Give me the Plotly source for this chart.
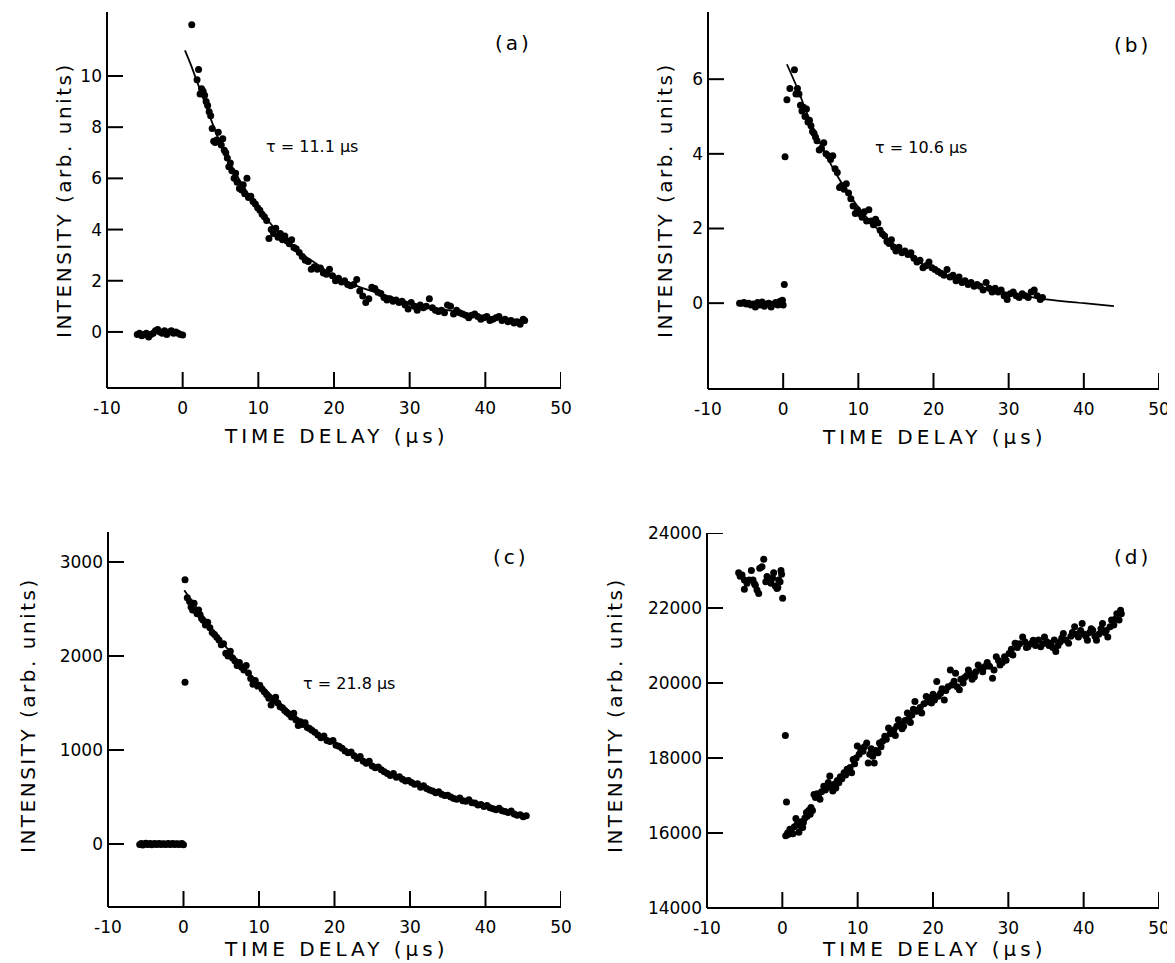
import plotly.graph_objects as go

# --- Données (temps en µs, intensité en unités arbitraires) ---

# (a) tau = 11.1 µs
a_base = [(-6.0, -0.1), (-5.7, -0.05), (-5.4, -0.15), (-5.1, -0.1), (-4.8, -0.05), (-4.5, -0.2),
          (-4.2, -0.1), (-3.9, -0.05), (-3.6, 0.05), (-3.3, 0.1), (-3.0, 0.0), (-2.7, -0.05),
          (-2.4, 0.05), (-2.1, -0.1), (-1.8, 0.0), (-1.5, 0.05), (-1.2, -0.05), (-0.9, 0.0),
          (-0.6, -0.05), (-0.3, -0.1), (0.0, -0.12)]
a_decay = [(1.2, 12.0), (1.9, 9.85), (2.1, 10.25), (2.3, 9.3), (2.5, 9.5), (2.7, 9.4), (2.9, 9.25),
           (3.1, 9.0), (3.3, 8.85), (3.5, 8.6), (3.7, 8.45), (3.9, 7.95), (4.1, 7.45), (4.3, 7.4),
           (4.5, 7.5), (4.7, 7.8), (4.9, 7.45), (5.1, 7.3), (5.3, 7.55), (5.5, 7.1), (5.7, 7.0),
           (5.9, 6.8), (6.1, 6.45), (6.3, 6.6), (6.5, 6.3), (6.8, 6.0), (7.0, 6.2), (7.2, 5.85),
           (7.5, 5.6), (7.8, 5.55), (8.0, 5.75), (8.2, 5.4), (8.5, 6.0), (8.7, 5.25), (9.0, 5.3),
           (9.3, 5.1), (9.6, 5.0), (9.9, 4.85), (10.2, 4.75), (10.5, 4.6), (10.8, 4.5), (11.1, 4.35),
           (11.4, 3.65), (11.7, 4.0), (12.0, 3.85), (12.3, 4.05), (12.6, 3.7), (12.9, 3.85),
           (13.2, 3.6), (13.5, 3.75), (13.8, 3.55), (14.1, 3.45), (14.4, 3.6), (14.7, 3.3),
           (15.0, 3.25), (15.4, 3.1), (15.8, 2.95), (16.2, 2.8), (16.6, 2.75), (17.0, 2.45),
           (17.4, 2.55), (17.8, 2.45), (18.2, 2.5), (18.6, 2.3), (19.0, 2.25), (19.4, 2.45),
           (19.8, 2.2), (20.2, 2.0), (20.6, 2.1), (21.0, 1.95), (21.4, 2.0), (21.8, 1.85),
           (22.2, 1.8), (22.6, 1.85), (23.0, 2.05), (23.4, 1.6), (23.8, 1.4), (24.2, 1.15),
           (24.6, 1.3), (25.0, 1.75), (25.4, 1.7), (25.8, 1.55), (26.2, 1.5), (26.6, 1.35),
           (27.0, 1.25), (27.4, 1.3), (27.8, 1.2), (28.2, 1.25), (28.6, 1.15), (29.0, 1.2),
           (29.4, 1.05), (29.8, 0.9), (30.2, 1.15), (30.6, 1.0), (31.0, 0.85), (31.4, 1.05),
           (31.8, 0.95), (32.2, 1.0), (32.6, 1.3), (33.0, 0.95), (33.4, 0.85), (33.8, 0.8),
           (34.2, 0.85), (34.6, 0.75), (35.0, 1.05), (35.4, 1.0), (35.8, 0.7), (36.2, 0.85),
           (36.6, 0.75), (37.0, 0.7), (37.4, 0.65), (37.8, 0.55), (38.2, 0.65), (38.6, 0.7),
           (39.0, 0.6), (39.4, 0.5), (39.8, 0.55), (40.2, 0.6), (40.6, 0.45), (41.0, 0.5),
           (41.4, 0.55), (41.8, 0.6), (42.2, 0.45), (42.6, 0.5), (43.0, 0.4), (43.4, 0.45),
           (43.8, 0.35), (44.2, 0.4), (44.6, 0.3), (45.0, 0.5), (45.2, 0.45)]
a_fit = [(0.3, 11.0), (1, 10.5), (2, 9.7), (3, 8.9), (4, 8.1), (5, 7.35), (6, 6.75), (7, 6.2),
         (8, 5.7), (9, 5.25), (10, 4.85), (12, 4.1), (14, 3.5), (16, 3.0), (18, 2.6), (20, 2.2),
         (23, 1.8), (26, 1.5), (30, 1.15), (35, 0.85), (40, 0.62), (45, 0.45)]

# (b) tau = 10.6 µs
b_base = [(-5.8, 0.0), (-5.5, 0.0), (-5.2, 0.02), (-4.9, -0.02), (-4.6, 0.0), (-4.3, -0.05),
          (-4.0, -0.02), (-3.7, -0.1), (-3.4, 0.02), (-3.1, -0.05), (-2.8, 0.03), (-2.5, -0.08),
          (-2.2, -0.02), (-1.9, 0.0), (-1.6, -0.1), (-1.3, -0.03), (-1.0, 0.02), (-0.7, -0.05),
          (-0.4, 0.05), (-0.1, 0.08), (0.0, -0.05)]
b_decay = [(0.15, 0.5), (0.25, 3.92), (0.5, 5.45), (0.9, 5.75), (1.5, 6.25), (1.7, 5.6), (1.9, 5.75),
           (2.1, 5.6), (2.3, 5.3), (2.5, 5.15), (2.7, 5.25), (2.9, 5.0), (3.1, 5.2), (3.3, 4.85),
           (3.5, 4.9), (3.7, 4.75), (3.9, 4.6), (4.1, 4.55), (4.3, 4.45), (4.5, 4.35), (4.8, 4.1),
           (5.1, 4.15), (5.4, 4.3), (5.7, 4.0), (6.0, 3.95), (6.3, 3.85), (6.6, 3.95), (6.9, 3.6),
           (7.2, 3.5), (7.5, 3.1), (7.8, 3.15), (8.1, 3.05), (8.4, 3.2), (8.7, 2.95), (9.0, 2.8),
           (9.3, 2.6), (9.6, 2.4), (9.9, 2.5), (10.2, 2.4), (10.5, 2.3), (10.8, 2.45), (11.1, 2.2),
           (11.4, 2.5), (11.7, 2.2), (12.0, 2.1), (12.3, 2.25), (12.6, 2.15), (12.9, 1.95),
           (13.2, 1.85), (13.5, 1.8), (13.8, 1.65), (14.1, 1.6), (14.4, 1.7), (14.7, 1.5),
           (15.0, 1.4), (15.4, 1.5), (15.8, 1.35), (16.2, 1.4), (16.6, 1.3), (17.0, 1.35),
           (17.4, 1.2), (17.8, 1.1), (18.2, 1.15), (18.6, 0.95), (19.0, 1.0), (19.4, 1.1),
           (19.8, 0.95), (20.2, 0.9), (20.6, 0.85), (21.0, 0.8), (21.4, 0.75), (21.8, 0.9),
           (22.2, 0.7), (22.6, 0.75), (23.0, 0.6), (23.4, 0.7), (23.8, 0.55), (24.2, 0.6),
           (24.6, 0.5), (25.0, 0.55), (25.4, 0.45), (25.8, 0.5), (26.2, 0.45), (26.6, 0.35),
           (27.0, 0.55), (27.4, 0.4), (27.8, 0.3), (28.2, 0.4), (28.6, 0.3), (29.0, 0.35),
           (29.4, 0.2), (29.8, 0.1), (30.2, 0.25), (30.6, 0.3), (31.0, 0.2), (31.4, 0.15),
           (31.8, 0.25), (32.2, 0.2), (32.6, 0.15), (33.0, 0.3), (33.4, 0.35), (33.8, 0.2),
           (34.2, 0.1), (34.5, 0.15)]
b_fit = [(0.5, 6.4), (2, 5.7), (3, 5.17), (4, 4.69), (5, 4.25), (6, 3.85), (7, 3.48), (8, 3.15),
         (10, 2.57), (12, 2.1), (14, 1.7), (16, 1.38), (18, 1.1), (20, 0.9), (23, 0.63),
         (26, 0.44), (30, 0.27), (35, 0.1), (40, 0.0), (44, -0.08)]

# (c) tau = 21.8 µs
c_base = [(-5.8, -5), (-5.6, 5), (-5.4, -10), (-5.2, 0), (-5.0, 8), (-4.8, -5), (-4.6, 0),
          (-4.4, 5), (-4.2, -8), (-4.0, 0), (-3.8, 6), (-3.6, -4), (-3.4, 0), (-3.2, 5),
          (-3.0, -6), (-2.8, 0), (-2.6, 4), (-2.4, -5), (-2.2, 0), (-2.0, 6), (-1.8, -4),
          (-1.6, 0), (-1.4, 5), (-1.2, -6), (-1.0, 0), (-0.8, 4), (-0.6, -5), (-0.4, 0),
          (-0.2, 5), (0.0, -8)]
c_decay = [(0.2, 2810), (0.2, 1720), (0.5, 2620), (0.8, 2580), (1.0, 2520), (1.2, 2490), (1.4, 2560),
           (1.6, 2480), (1.8, 2450), (2.0, 2490), (2.2, 2440), (2.4, 2400), (2.6, 2380), (2.9, 2330),
           (3.2, 2360), (3.5, 2300), (3.8, 2250), (4.1, 2230), (4.4, 2200), (4.7, 2170), (5.0, 2120),
           (5.3, 2130), (5.6, 2030), (5.9, 2000), (6.2, 2050), (6.5, 1980), (6.8, 1950), (7.1, 1900),
           (7.4, 1930), (7.7, 1880), (8.0, 1850), (8.3, 1900), (8.6, 1820), (8.9, 1760), (9.2, 1700),
           (9.5, 1740), (9.8, 1680), (10.1, 1690), (10.4, 1650), (10.7, 1620), (11.0, 1590),
           (11.3, 1550), (11.6, 1480), (11.9, 1520), (12.2, 1560), (12.5, 1500), (12.8, 1460),
           (13.1, 1450), (13.4, 1420), (13.7, 1400), (14.0, 1380), (14.3, 1350), (14.6, 1390),
           (14.9, 1320), (15.2, 1260), (15.5, 1300), (15.8, 1270), (16.1, 1290), (16.4, 1240),
           (16.7, 1230), (17.0, 1210), (17.4, 1190), (17.8, 1160), (18.2, 1130), (18.6, 1150),
           (19.0, 1100), (19.4, 1090), (19.8, 1100), (20.2, 1050), (20.6, 1040), (21.0, 1020),
           (21.4, 990), (21.8, 970), (22.2, 980), (22.6, 940), (23.0, 910), (23.4, 930), (23.8, 880),
           (24.2, 860), (24.6, 880), (25.0, 830), (25.4, 810), (25.8, 820), (26.2, 790), (26.6, 770),
           (27.0, 750), (27.4, 730), (27.8, 750), (28.2, 710), (28.6, 715), (29.0, 690), (29.4, 670),
           (29.8, 675), (30.2, 655), (30.6, 635), (31.0, 640), (31.4, 605), (31.8, 620), (32.2, 590),
           (32.6, 575), (33.0, 565), (33.4, 545), (33.8, 555), (34.2, 530), (34.6, 515), (35.0, 520),
           (35.4, 500), (35.8, 485), (36.2, 475), (36.6, 490), (37.0, 460), (37.4, 455), (37.8, 470),
           (38.2, 440), (38.6, 435), (39.0, 415), (39.4, 420), (39.8, 400), (40.2, 410), (40.6, 385),
           (41.0, 375), (41.4, 365), (41.8, 380), (42.2, 355), (42.6, 345), (43.0, 335), (43.4, 350),
           (43.8, 320), (44.2, 305), (44.6, 310), (45.0, 290), (45.4, 300)]
c_fit = [(0.1, 2700), (2, 2483), (4, 2262), (6, 2060), (8, 1876), (10, 1708), (12, 1555),
         (14, 1415), (16, 1287), (18, 1171), (20, 1065), (23, 923), (26, 799), (30, 658),
         (34, 541), (38, 444), (42, 363), (45.7, 300)]

# (d) pas d'ajustement
d_base = [(-5.8, 22940), (-5.6, 22850), (-5.35, 22880), (-5.04, 22750), (-5.04, 22500),
          (-4.69, 22660), (-4.4, 22750), (-4.11, 23000), (-3.89, 22750), (-3.7, 22650),
          (-3.58, 22610), (-3.36, 22480), (-3.14, 22390), (-3.0, 23060), (-2.7, 23100),
          (-2.47, 23300), (-2.2, 22700), (-2.03, 22840), (-1.81, 22750), (-1.5, 22660),
          (-1.3, 22800), (-1.15, 22940), (-0.93, 22590), (-0.71, 22520), (-0.6, 22550),
          (-0.49, 22750), (-0.3, 22700), (-0.18, 23000), (-0.1, 22900), (0.04, 22260)]
d_rise = [(0.4, 18600), (0.55, 16830), (0.45, 15930), (0.7, 16000), (0.85, 15970), (1.0, 16100),
          (1.2, 16020), (1.4, 15980), (1.6, 16170), (1.8, 16390), (2.0, 16250), (2.2, 16020),
          (2.3, 16200), (2.5, 16300), (2.7, 16150), (2.8, 16280), (3.0, 16400), (3.2, 16550),
          (3.3, 16450), (3.5, 16600), (3.7, 16500), (3.8, 16680), (4.0, 16600), (4.2, 17030),
          (4.4, 16950), (4.6, 17050), (4.8, 16990), (5.0, 16900), (5.2, 17100), (5.5, 17250),
          (5.7, 17150), (5.9, 17200), (6.1, 17350), (6.3, 17520), (6.5, 17250), (6.7, 17120),
          (6.9, 17300), (7.1, 17200), (7.3, 17400), (7.5, 17340), (7.7, 17500), (7.9, 17450),
          (8.2, 17610), (8.4, 17550), (8.6, 17700), (8.8, 17650), (9.0, 17750), (9.2, 17610),
          (9.4, 17960), (9.6, 17850), (9.8, 18000), (9.95, 18320), (10.2, 18100), (10.4, 18250),
          (10.7, 18180), (10.9, 18300), (11.2, 18400), (11.4, 17870), (11.6, 18100), (11.8, 18250),
          (12.0, 18050), (12.2, 17870), (12.4, 18200), (12.7, 18140), (12.9, 18400), (13.1, 18300),
          (13.3, 18450), (13.6, 18580), (13.8, 18500), (14.1, 18800), (14.3, 18650), (14.6, 18670),
          (14.8, 18750), (15.0, 18600), (15.2, 18850), (15.4, 19020), (15.7, 18900), (15.9, 18780),
          (16.1, 18850), (16.3, 19000), (16.6, 19200), (16.8, 19050), (17.0, 18950), (17.2, 19150),
          (17.4, 19300), (17.6, 19510), (17.8, 19250), (18.1, 19290), (18.3, 19350), (18.5, 19200),
          (18.8, 19450), (19.1, 19640), (19.3, 19500), (19.5, 19600), (19.8, 19470), (20.0, 19700),
          (20.2, 19550), (20.5, 20040), (20.7, 19650), (21.0, 19730), (21.2, 19850), (21.5, 19550),
          (21.7, 19800), (22.0, 19900), (22.3, 20350), (22.5, 19950), (22.8, 20050), (23.0, 20260),
          (23.2, 19900), (23.5, 19820), (23.7, 20100), (24.0, 20000), (24.2, 20150), (24.5, 20200),
          (24.7, 20350), (25.0, 20250), (25.2, 20100), (25.5, 20170), (25.7, 20300), (26.0, 20480),
          (26.3, 20400), (26.6, 20300), (26.9, 20440), (27.2, 20550), (27.5, 20450), (27.9, 20130),
          (28.1, 20350), (28.4, 20700), (28.7, 20600), (28.9, 20480), (29.2, 20550), (29.5, 20700),
          (29.7, 20610), (30.1, 20790), (30.4, 20900), (30.6, 20750), (30.9, 21060), (31.2, 20950),
          (31.5, 21050), (31.9, 21230), (32.2, 21100), (32.4, 20950), (32.6, 20970), (33.0, 21050),
          (33.3, 21140), (33.6, 21000), (34.0, 21150), (34.3, 20970), (34.6, 21050), (34.8, 21230),
          (35.1, 21100), (35.4, 21000), (35.6, 21060), (35.9, 20950), (36.1, 21150), (36.3, 20840),
          (36.6, 21000), (36.9, 21100), (37.1, 21200), (37.3, 21320), (37.6, 21150), (38.0, 21060),
          (38.3, 21250), (38.5, 21350), (38.8, 21500), (39.0, 21300), (39.3, 21230), (39.6, 21400),
          (39.8, 21590), (40.1, 21300), (40.3, 21250), (40.5, 21140), (40.8, 21350), (41.0, 21450),
          (41.2, 21410), (41.5, 21250), (41.7, 21140), (42.0, 21300), (42.3, 21450), (42.5, 21590),
          (42.8, 21350), (43.0, 21400), (43.2, 21230), (43.5, 21500), (43.7, 21680), (44.0, 21550),
          (44.2, 21700), (44.4, 21850), (44.7, 21680), (44.9, 21940), (45.0, 21850)]

x_ticks = [-10, 0, 10, 20, 30, 40, 50]
a_yticks = [0, 2, 4, 6, 8, 10]
b_yticks = [0, 2, 4, 6]
c_yticks = [0, 1000, 2000, 3000]
d_yticks = [14000, 16000, 18000, 20000, 22000, 24000]

labels = ["(a)", "(b)", "(c)", "(d)"]
taus = ["τ = 11.1 μs", "τ = 10.6 μs", "τ = 21.8 μs"]

# --- Mise en page (coordonnées en pixels de la fenêtre) ---
WIN_W, WIN_H = 1175, 963
OFF = 8                      # marge par défaut du <body> de la page
W, H = WIN_W - OFF, WIN_H - OFF
FONT = "DejaVu Sans"
TICK = 16                    # longueur des graduations (px)


def sp(text, px):
    return f'<span style="letter-spacing:{px}px">{text}</span>'


def px_x(p):
    return (p - OFF) / W


def px_y(p):
    return 1 - (p - OFF) / H


def unzip(pairs):
    return [p[0] for p in pairs], [p[1] for p in pairs]


# (gauche, droite, haut, bas) en pixels, plage y, ticks y
panels = [
    dict(box=(107, 561, 12, 388), yrange=[-2.19, 12.5], yticks=a_yticks),
    dict(box=(708, 1159, 12, 389), yrange=[-2.3, 7.8], yticks=b_yticks),
    dict(box=(108, 561, 532, 907), yrange=[-670, 3319], yticks=c_yticks),
    dict(box=(707, 1159, 533, 908), yrange=[14000, 24000], yticks=d_yticks),
]

series = [
    (a_base, a_decay, a_fit),
    (b_base, b_decay, b_fit),
    (c_base, c_decay, c_fit),
    (d_base, d_rise, None),
]

fig = go.Figure()
layout = {}
shapes = []
line_style = dict(color="black", width=2)
for k, (p, (base, pts, fit)) in enumerate(zip(panels, series)):
    n = "" if k == 0 else str(k + 1)
    xa, ya = "x" + n, "y" + n
    for data in (base, pts):
        tx, ty = unzip(data)
        fig.add_trace(go.Scatter(x=tx, y=ty, mode="markers", xaxis=xa, yaxis=ya,
                                 marker=dict(size=7, color="black"), showlegend=False,
                                 hoverinfo="skip"))
    if fit:
        fx, fy = unzip(fit)
        fig.add_trace(go.Scatter(x=fx, y=fy, mode="lines", xaxis=xa, yaxis=ya,
                                 line=dict(color="black", width=1.8, shape="spline"),
                                 showlegend=False, hoverinfo="skip"))
    l, r, t, b = p["box"]
    axis_common = dict(showline=False, showgrid=False, zeroline=False, ticks="",
                       automargin=False, tickfont=dict(family=FONT, size=17, color="black"))
    layout["xaxis" + n] = dict(axis_common, domain=[px_x(l), px_x(r)], anchor=ya,
                               range=[-10, 50], tickvals=x_ticks, ticklabelstandoff=8,
                               ticktext=[str(v) for v in x_ticks])
    layout["yaxis" + n] = dict(axis_common, domain=[px_y(b), px_y(t)], anchor=xa,
                               range=p["yrange"], tickvals=p["yticks"], ticklabelstandoff=4,
                               ticktext=[str(v) for v in p["yticks"]])

    # axes en L et graduations intérieures
    xd, yd = xa + " domain", ya + " domain"
    shapes.append(dict(type="line", xref=xd, yref=yd, x0=0, x1=1, y0=0, y1=0, line=line_style))
    shapes.append(dict(type="line", xref=xd, yref=yd, x0=0, x1=0, y0=0, y1=1, line=line_style))
    for v in x_ticks:
        shapes.append(dict(type="line", xref=xa, yref=yd, x0=v, x1=v, y0=0, y1=TICK / (b - t),
                           line=line_style))
    for v in p["yticks"]:
        shapes.append(dict(type="line", xref=xa, yref=ya, x0=-10, x1=-10 + 60 * TICK / (r - l),
                           y0=v, y1=v, line=line_style))

annotations = []
# titres des axes
y_title_pos = [(64, 200), (665, 200), (28, 715), (615, 715)]
x_title_pos = [(336, 436), (934, 437), (336, 949), (934, 949)]
for (xp, yp) in y_title_pos:
    annotations.append(dict(text=sp("INTENSITY (arb. units)", 2.5), x=px_x(xp), y=px_y(yp),
                            xref="paper", yref="paper", showarrow=False, textangle=-90,
                            font=dict(family=FONT, size=20, color="black"),
                            xanchor="center", yanchor="middle"))
for (xp, yp) in x_title_pos:
    annotations.append(dict(text=sp("TIME DELAY (μs)", 4), x=px_x(xp), y=px_y(yp),
                            xref="paper", yref="paper", showarrow=False,
                            font=dict(family=FONT, size=20, color="black"),
                            xanchor="center", yanchor="middle"))
# étiquettes des panneaux
label_pos = [(513, 43), (1132, 45), (511, 557), (1132, 557)]
for lab, (xp, yp) in zip(labels, label_pos):
    annotations.append(dict(text=sp(lab, 3), x=px_x(xp), y=px_y(yp), xref="paper", yref="paper",
                            showarrow=False, font=dict(family=FONT, size=20, color="black"),
                            xanchor="center", yanchor="middle"))
# constantes de temps
tau_pos = [(312, 147), (921, 148), (349, 683)]
for txt, (xp, yp) in zip(taus, tau_pos):
    annotations.append(dict(text=txt, x=px_x(xp), y=px_y(yp), xref="paper", yref="paper",
                            showarrow=False, font=dict(family=FONT, size=16, color="black"),
                            xanchor="center", yanchor="middle"))

fig.update_layout(
    width=W, height=H,
    margin=dict(l=0, r=0, t=0, b=0, autoexpand=False),
    paper_bgcolor="white", plot_bgcolor="white",
    font=dict(family=FONT, color="black"),
    annotations=annotations,
    shapes=shapes,
    **layout,
)

fig.write_html("out.html")
